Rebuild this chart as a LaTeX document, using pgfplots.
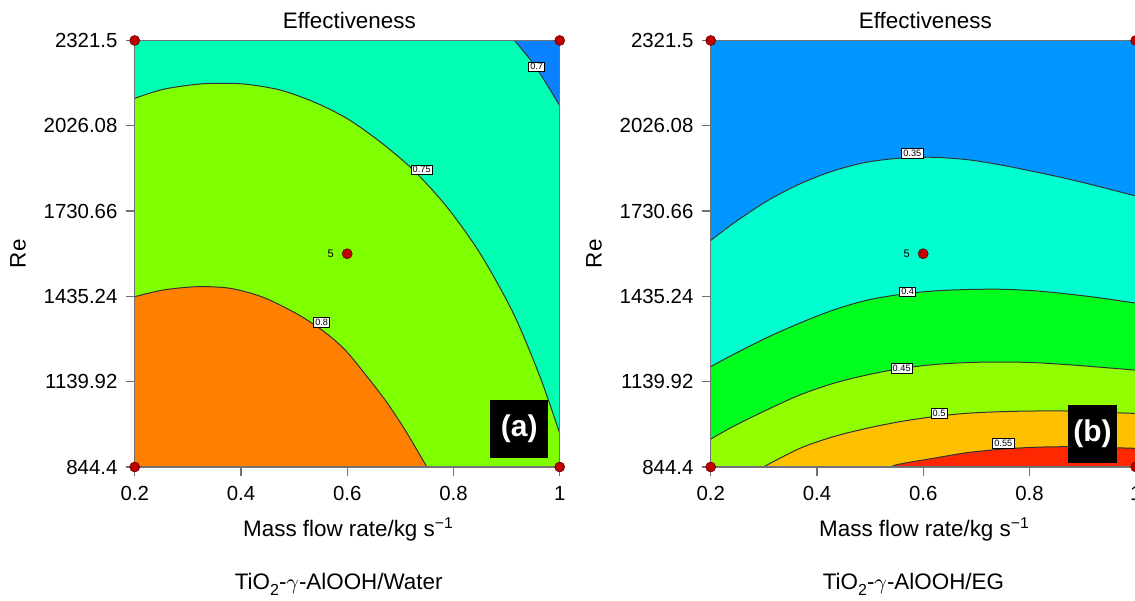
\documentclass[border=0pt]{standalone}
\usepackage{pgfplots}
\pgfplotsset{compat=1.18}
\usepackage{pgfplotstable}
\usepackage{fontspec}
\setmainfont{Liberation Sans}
\definecolor{lcyan}{RGB}{0,255,178}
\definecolor{lgreen}{RGB}{127,255,0}
\definecolor{lorange}{RGB}{255,128,0}
\definecolor{lblue}{RGB}{10,130,255}
\definecolor{rblue}{RGB}{0,150,255}
\definecolor{rcyan}{RGB}{0,255,208}
\definecolor{rgreen}{RGB}{0,255,30}
\definecolor{rygreen}{RGB}{145,255,0}
\definecolor{ramber}{RGB}{255,192,0}
\definecolor{rred}{RGB}{255,40,0}
\definecolor{dotred}{RGB}{190,0,0}
\newcommand{\mainsize}{\fontsize{11.2}{13}\selectfont}
\newcommand{\ticksize}{\fontsize{10.2}{12}\selectfont}

% Left panel contours (Water)
\pgfplotstableread{
x y
0.2 2121.3
0.2538 2152.5
0.3167 2169.8
0.3606 2173.3
0.4108 2169.8
0.4735 2150.1
0.5362 2109.5
0.5991 2052.0
0.6618 1971.0
0.7244 1873.0
0.7873 1745.9
0.8500 1584.5
0.9127 1376.7
0.9629 1157.1
1.0 961.1
}\cAseven
\pgfplotstableread{
x y
0.2 1434.2
0.2538 1457.4
0.3167 1468.8
0.3794 1463.3
0.4421 1432
0.5051 1375
0.5552 1315
0.596 1250
0.6337 1166
0.6714 1076.4
0.709 972.5
0.7499 844.4
}\cAeight
\pgfplotstableread{
x y
0.9149 2321.5
0.9476 2248.1
0.9727 2178.8
1.0 2095.7
}\cAseventy
% Right panel contours (EG)
\pgfplotstableread{
x y
0.2 1629
0.2425 1688
0.3054 1765
0.3681 1825
0.4308 1870
0.4937 1900
0.5563 1914
0.6190 1917
0.6819 1909
0.7446 1891
0.8073 1868
0.8701 1843
0.9328 1815
1.0 1783
}\cBa
\pgfplotstableread{
x y
0.2 1192
0.2425 1234
0.3054 1292
0.3681 1343
0.4308 1388
0.4937 1422
0.5563 1442
0.6190 1454
0.6819 1459
0.7446 1460
0.8073 1455
0.8701 1444
0.9328 1430
1.0 1412
}\cBb
\pgfplotstableread{
x y
0.2 941
0.2425 985
0.3054 1042
0.3681 1094
0.4308 1134
0.4937 1163
0.5563 1185
0.6190 1199
0.6819 1206
0.7446 1208
0.8073 1206
0.8701 1199
0.9328 1190
1.0 1180
}\cBc
\pgfplotstableread{
x y
0.299 844.4
0.3681 909.2
0.4308 949.3
0.4937 978.4
0.5563 1001.3
0.6190 1018.6
0.6819 1030.4
0.7446 1035.9
0.8073 1038.3
0.8701 1038.3
0.9328 1034
1.0 1030
}\cBd
\pgfplotstableread{
x y
0.5375 844.4
0.5563 854.8
0.6190 874.5
0.6819 893.9
0.7446 905.7
0.8073 912.6
0.8701 914.7
0.9328 912.6
1.0 909
}\cBe
\pgfplotstableread{
x y
0.2 844.4
0.2 2321.5
1 844.4
1 2321.5
0.6 1582.95
}\design

\pgfplotsset{
  myaxis/.style={
    scale only axis, width=212.5pt, height=213.25pt,
    xmin=0.2, xmax=1, ymin=844.4, ymax=2321.5,
    xtick={0.2,0.4,0.6,0.8,1}, xticklabels={0.2,0.4,0.6,0.8,1},
    ytick={844.4,1139.92,1435.24,1730.66,2026.08,2321.5},
    yticklabels={844.4,1139.92,1435.24,1730.66,2026.08,2321.5},
    tick align=outside, major tick length=4.5pt, tick pos=left,
    axis line style={draw=black!55, line width=0.7pt},
    tick style={draw=black!55, line width=0.6pt},
    clip=false, axis on top,
    ticklabel style={font=\ticksize},
    xticklabel style={yshift=-1.5pt},
    yticklabel style={xshift=-0.6pt},
    title={Effectiveness},
    title style={at={(axis description cs:0.505,1)}, anchor=base, yshift=0pt, font=\mainsize},
    xlabel={Mass flow rate/kg s\textsuperscript{\symbol{"2212}1}},
    xlabel style={at={(axis description cs:0.503,-0.163)}, anchor=base, font=\mainsize},
    ylabel={Re},
    ylabel style={at={(axis description cs:-0.2746,0.5)}, anchor=center, font=\mainsize},
  },
  fillst/.style={draw=none, smooth, mark=none},
  linest/.style={draw=black!80, line width=0.5pt, smooth, mark=none},
  dots/.style={only marks, mark=*, mark size=2.5pt, mark options={fill=dotred, draw=black!60!red, line width=0.3pt}},
}
\tikzset{
  lbl/.style={draw=black, fill=white, line width=0.3pt, inner sep=0.8pt, font=\fontsize{4.6}{5}\selectfont},
  tag/.style={fill=black, text=white, font=\fontsize{15}{17}\selectfont\bfseries, inner sep=0pt},
}
\newcommand{\lowsub}[1]{\raisebox{-0.55ex}{\fontsize{8}{9}\selectfont #1}}

\begin{document}
\begin{tikzpicture}
\begin{axis}[myaxis, at={(67.35pt,66.5pt)}, anchor=south west,
  axis background/.style={fill=lcyan}]
  \addplot[fillst, fill=lgreen] table {\cAseven} \closedcycle;
  \addplot[fillst, fill=lorange] table {\cAeight} \closedcycle;
  \addplot[draw=none, fill=lblue, mark=none] coordinates {(0.9149,2321.5) (0.9476,2248.1) (0.9727,2178.8) (1,2095.7) (1,2321.5)} -- cycle;
  \addplot[linest] table {\cAseven};
  \addplot[linest] table {\cAeight};
  \addplot[linest] table {\cAseventy};
  \node[lbl] at (axis cs:0.9567,2230.7) {0.7};
  \node[lbl] at (axis cs:0.7402,1874.0) {0.75};
  \node[lbl] at (axis cs:0.552,1345.5) {0.8};
  \node[tag, minimum width=29pt, minimum height=29pt] at (axis cs:0.9238,975.3) {(a)};
  \addplot[dots] table {\design};
  \node[anchor=east, font=\fontsize{5.5}{6}\selectfont, xshift=-3.2pt] at (axis cs:0.6,1582.95) {5};
  \node[anchor=base, font=\mainsize] at (axis description cs:0.48,-0.287) {TiO\lowsub{2}-$\gamma$-AlOOH/Water};
\end{axis}
\begin{axis}[myaxis, at={(355.35pt,66.5pt)}, anchor=south west,
  axis background/.style={fill=rblue}]
  \addplot[fillst, fill=rcyan] table {\cBa} \closedcycle;
  \addplot[fillst, fill=rgreen] table {\cBb} \closedcycle;
  \addplot[fillst, fill=rygreen] table {\cBc} \closedcycle;
  \addplot[fillst, fill=ramber] table {\cBd} \closedcycle;
  \addplot[fillst, fill=rred] table {\cBe} \closedcycle;
  \addplot[linest] table {\cBa};
  \addplot[linest] table {\cBb};
  \addplot[linest] table {\cBc};
  \addplot[linest] table {\cBd};
  \addplot[linest] table {\cBe};
  \node[lbl] at (axis cs:0.5795,1930.9) {0.35};
  \node[lbl] at (axis cs:0.5708,1451.5) {0.4};
  \node[lbl] at (axis cs:0.5595,1186.2) {0.45};
  \node[lbl] at (axis cs:0.6298,1030.4) {0.5};
  \node[lbl] at (axis cs:0.7508,926.5) {0.55};
  \node[tag, minimum width=24.2pt, minimum height=28.9pt] at (axis cs:0.9187,959.2) {(b)};
  \addplot[dots] table {\design};
  \node[anchor=east, font=\fontsize{5.5}{6}\selectfont, xshift=-3.2pt] at (axis cs:0.6,1582.95) {5};
  \node[anchor=base, font=\mainsize] at (axis description cs:0.477,-0.287) {TiO\lowsub{2}-$\gamma$-AlOOH/EG};
\end{axis}
\pgfresetboundingbox
\path (0,0) rectangle (567.5pt,300pt);
\end{tikzpicture}
\end{document}
